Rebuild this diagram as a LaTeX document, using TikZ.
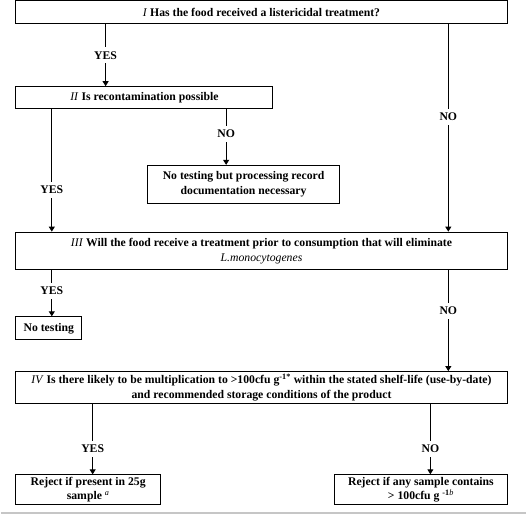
\documentclass[tikz,border=0pt]{standalone}
\usepackage{fontspec}
\setmainfont{Liberation Serif}
\usetikzlibrary{positioning,arrows.meta}

\begin{document}
\begin{tikzpicture}[
    x=1bp, y=-1bp,
    qbox/.style={draw=black, line width=1bp, fill=white, align=center, inner sep=2bp,
        font=\fontsize{11.8}{15}\selectfont\bfseries},
    flow/.style={draw=black, line width=0.9bp, -{Triangle[width=6bp,length=5bp]}},
    answer/.style={fill=white, inner xsep=1bp, inner ysep=4bp, font=\fontsize{11.8}{13}\selectfont\bfseries}
]
    % Rahmen
    \fill[white] (0,0) rectangle (527,517);
    \draw[gray!45, line width=2bp] (0,515) -- (527,515);

    % Fragen
    \node[qbox, minimum width=493bp, minimum height=23bp] (qone) at (261.5,12.5)
        {\textit{\mdseries I} Has the food received a listericidal treatment?};
    \node[qbox, minimum width=258bp, minimum height=22bp] (qtwo) at (144,98)
        {\textit{\mdseries II} Is recontamination possible};
    \node[qbox, minimum width=193bp, minimum height=38bp] (record) at (243.5,185)
        {No testing but processing record\\documentation necessary};
    \node[qbox, minimum width=493bp, minimum height=38bp] (qthree) at (261.5,252)
        {\textit{\mdseries III} Will the food receive a treatment prior to consumption that will eliminate\\
         \textit{\mdseries L.monocytogenes}};
    \node[qbox, minimum width=66bp, minimum height=23bp] (notest) at (48,329.5) {No testing};
    \node[qbox, minimum width=493bp, minimum height=32bp] (qfour) at (261.5,389)
        {\textit{\mdseries IV} Is there likely to be multiplication to >100cfu g\textsuperscript{-1*} within the stated shelf-life (use-by-date)\\
         and recommended storage conditions of the product};
    \node[qbox, minimum width=145bp, minimum height=27bp] (reject25) at (87.5,491.5)
        {Reject if present in 25g\\sample \textsuperscript{\textit{\mdseries a}}};
    \node[qbox, minimum width=173bp, minimum height=27bp] (reject100) at (421.5,491.5)
        {Reject if any sample contains\\> 100cfu g \textsuperscript{-1\textit{\mdseries b}}};

    % Spalten der Pfeile
    \coordinate (colA) at (51,0);
    \coordinate (colB) at (105,0);
    \coordinate (colC) at (226,0);
    \coordinate (colD) at (449,0);
    \coordinate (colE) at (92,0);
    \coordinate (colF) at (431,0);

    % Verbindungen
    \draw[flow] (qone.south -| colB) -- node[answer, pos=0.5] {YES} (qtwo.north -| colB);
    \draw[flow] (qone.south -| colD) -- node[answer, pos=0.445] {NO} (qthree.north -| colD);
    \draw[flow] (qtwo.south -| colA) -- node[answer, pos=0.66] {YES} (qthree.north -| colA);
    \draw[flow] (qtwo.south -| colC) -- node[answer, pos=0.44] {NO} (record.north -| colC);
    \draw[flow] (qthree.south -| colA) -- node[answer, pos=0.45] {YES} (notest.north -| colA);
    \draw[flow] (qthree.south -| colD) -- node[answer, pos=0.4] {NO} (qfour.north -| colD);
    \draw[flow] (qfour.south -| colE) -- node[answer, pos=0.64] {YES} (reject25.north -| colE);
    \draw[flow] (qfour.south -| colF) -- node[answer, pos=0.64] {NO} (reject100.north -| colF);
\end{tikzpicture}
\end{document}
